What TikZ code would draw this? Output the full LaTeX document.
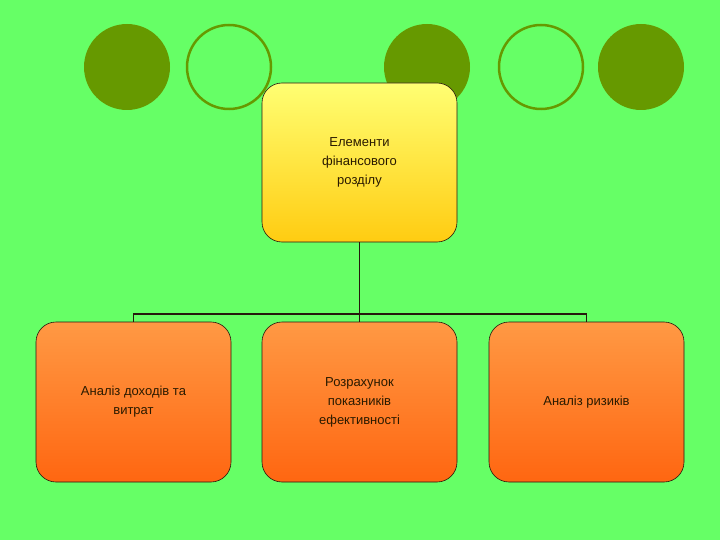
\documentclass[tikz,border=0pt]{standalone}
\usepackage{fontspec}
\setmainfont{Liberation Sans}
\begin{document}
\begin{tikzpicture}[x=1pt,y=-1pt,
  dot/.style={fill=olv,draw=none},
  ring/.style={draw=olv,line width=2.5pt},
  topbox/.style={draw=black!80!brown,line width=0.6pt,rounded corners=20pt,top color=yellow!50!white!90!yellow,bottom color=topb,minimum width=195pt,minimum height=159pt,align=center,text=txt,font=\fontsize{13}{19}\selectfont},
  subbox/.style={draw=black!80!brown,line width=0.6pt,rounded corners=20pt,top color=subt,bottom color=subb,minimum width=195pt,minimum height=160pt,align=center,text=txt,font=\fontsize{13}{19}\selectfont},
  conn/.style={draw=black!80!brown,line width=1.2pt}]
\definecolor{olv}{HTML}{669900}
\definecolor{bg}{HTML}{66FF66}
\definecolor{topb}{HTML}{FFCC11}
\definecolor{subt}{HTML}{FF9944}
\definecolor{subb}{HTML}{FF6611}
\definecolor{txt}{HTML}{2A1A00}
\fill[bg] (0,0) rectangle (720,540);
\useasboundingbox (0,0) rectangle (720,540);
\fill[dot] (127,67) circle (43);
\draw[ring] (229,67) circle (42);
\fill[dot] (427,67) circle (43);
\draw[ring] (541,67) circle (42);
\fill[dot] (641,67) circle (43);
\node[topbox] (t) at (359.5,162.5) {Елементи\\фінансового\\розділу};
\node[subbox] (a) at (133.5,402) {Аналіз доходів та\\витрат};
\node[subbox] (b) at (359.5,402) {Розрахунок\\показників\\ефективності};
\node[subbox] (c) at (586.5,402) {Аналіз ризиків};
\coordinate (j) at (359.5,314);
\draw[conn] (t.south) -- (j);
\draw[conn] (a.north) -- (a.north |- j) -- (c.north |- j) -- (c.north);
\draw[conn] (j) -- (b.north);
\end{tikzpicture}
\end{document}
